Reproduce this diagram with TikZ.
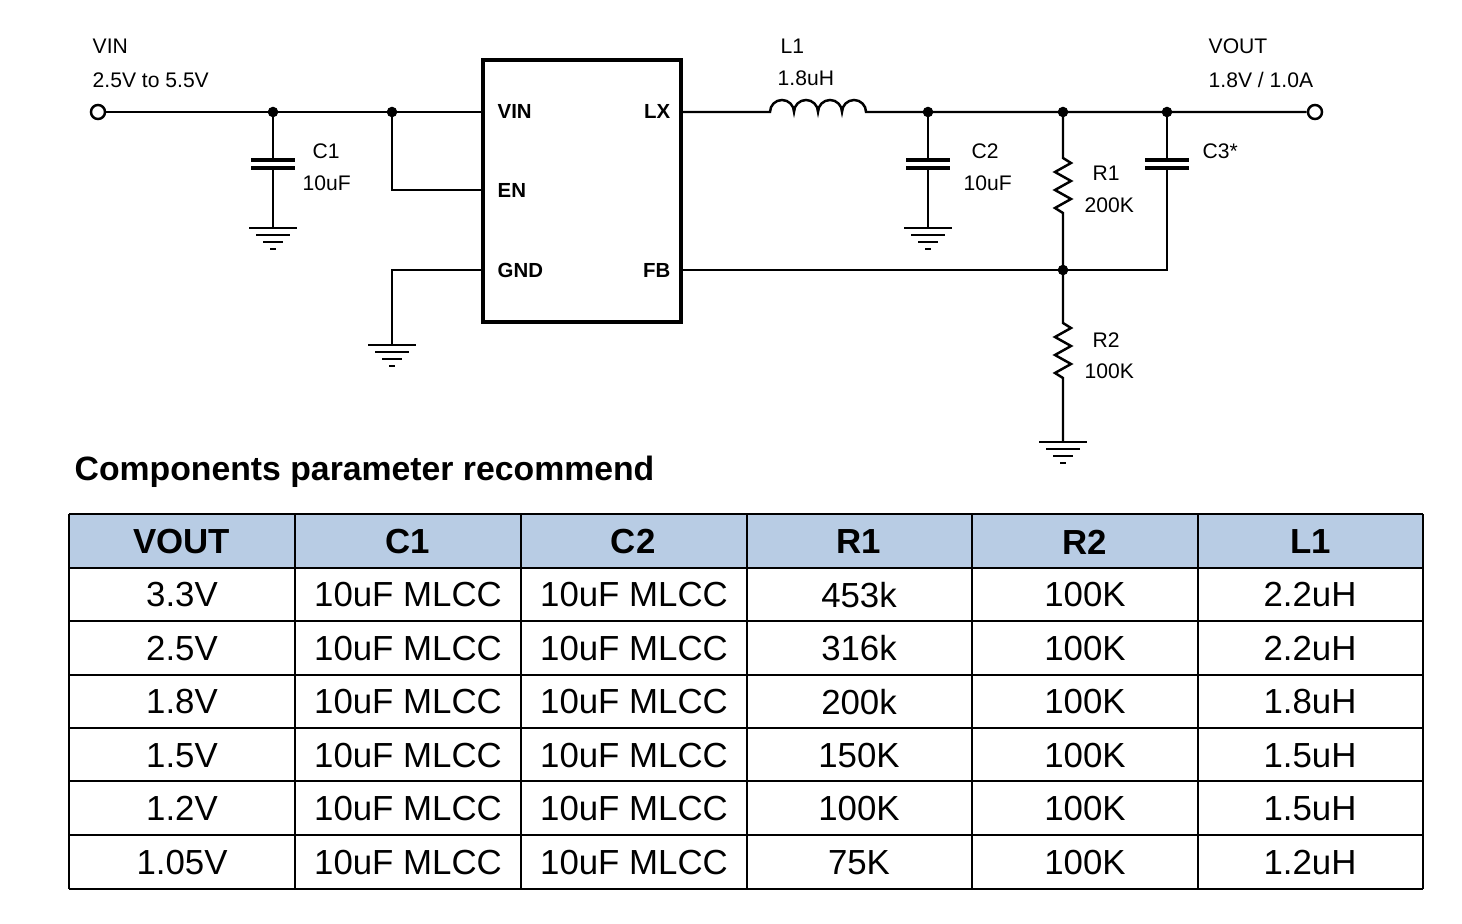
\documentclass[tikz,border=0pt]{standalone}
\usepackage{fontspec}
\setmainfont{Liberation Sans}
\definecolor{headblue}{HTML}{B8CCE4}
\begin{document}
\begin{tikzpicture}[x=0.01cm,y=-0.01cm,
    wire/.style={line width=0.7pt},
    lbl/.style={font=\fontsize{6}{7}\selectfont,inner sep=0pt},
    pin/.style={font=\fontsize{5.8}{6}\selectfont\bfseries,inner sep=0pt},
    dot/.style={circle,fill,inner sep=0pt,minimum size=3pt},
    term/.style={circle,draw,line width=0.7pt,fill=white,inner sep=0pt,minimum size=4pt},
    cell/.style={font=\fontsize{9.9}{11}\selectfont,inner sep=0pt},
    hcell/.style={font=\fontsize{9.9}{11}\selectfont\bfseries,inner sep=0pt},
    gnd/.pic={\draw[wire] (-24,0) -- (24,0) (-17,7) -- (17,7) (-10,14) -- (10,14) (-3,21) -- (3,21);},
    cap/.pic={\draw[line width=1.2pt] (-22,-4) -- (22,-4) (-22,4) -- (22,4);}]
\useasboundingbox (0,0) rectangle (1462,924);

% input side
\node[term] (vin) at (98,112) {};
\node[lbl,anchor=west] at (92,46) {VIN};
\node[lbl,anchor=west] at (92,80) {2.5V to 5.5V};
\coordinate (j1) at (273,112);
\coordinate (j2) at (392,112);
\node[dot] at (j1) {};
\node[dot] at (j2) {};

% IC
\draw[line width=1pt] (483,60) rectangle (681,322);
\node[pin,anchor=west] (pvin) at (497,111) {VIN};
\node[pin,anchor=east] (plx) at (671,111) {LX};
\node[pin,anchor=west] (pen) at (497,190) {EN};
\node[pin,anchor=west] (pgnd) at (497,270) {GND};
\node[pin,anchor=east] (pfb) at (671,270) {FB};
\draw[wire] (vin) -- (483,112);

% C1
\draw[wire] (j1) -- (273,160) (273,168) -- (273,228);
\pic at (273,164) {cap};
\pic at (273,228) {gnd};
\node[lbl,anchor=west] at (312,151) {C1};
\node[lbl,anchor=west] at (302,183) {10uF};

% EN and GND
\draw[wire] (j2) -- (392,190) -- (483,190);
\draw[wire] (483,270) -- (392,270) -- (392,345);
\pic at (392,345) {gnd};

% output side
\coordinate (j3) at (928,112);
\coordinate (j4) at (1063,112);
\coordinate (j5) at (1167,112);
\coordinate (j6) at (1063,270);
\node[term] (vout) at (1315,112) {};
\draw[wire] (681,112) -- (770,112) arc (180:0:0.12cm) arc (180:0:0.12cm) arc (180:0:0.12cm) arc (180:0:0.12cm) -- (vout);
\foreach \j in {j3,j4,j5,j6} \node[dot] at (\j) {};
\node[lbl,anchor=west] at (780,46) {L1};
\node[lbl,anchor=west] at (777,78) {1.8uH};
\node[lbl,anchor=west] at (1208,46) {VOUT};
\node[lbl,anchor=west] at (1208,80) {1.8V / 1.0A};

% C2
\draw[wire] (j3) -- (928,160) (928,168) -- (928,228);
\pic at (928,164) {cap};
\pic at (928,228) {gnd};
\node[lbl,anchor=west] at (971,151) {C2};
\node[lbl,anchor=west] at (963,183) {10uF};

% R1, R2
\draw[wire] (j4) -- (1063,158) -- (1071,163) -- (1055,172) -- (1071,181) -- (1055,190) -- (1071,199) -- (1055,208) -- (1063,213) -- (j6);
\node[lbl,anchor=west] at (1092,173) {R1};
\node[lbl,anchor=west] at (1084,205) {200K};
\draw[wire] (j6) -- (1063,323) -- (1071,328) -- (1055,337) -- (1071,346) -- (1055,355) -- (1071,364) -- (1055,373) -- (1063,378) -- (1063,442);
\pic at (1063,442) {gnd};
\node[lbl,anchor=west] at (1092,340) {R2};
\node[lbl,anchor=west] at (1084,371) {100K};

% C3 and FB
\draw[wire] (j5) -- (1167,160) (1167,168) -- (1167,270) -- (j6);
\pic at (1167,164) {cap};
\node[lbl,anchor=west] at (1202,151) {C3*};
\draw[wire] (681,270) -- (j6);

% table
\node[font=\fontsize{9.6}{11}\selectfont\bfseries,anchor=west,inner sep=0pt] at (74,472) {Components parameter recommend};
\fill[headblue] (69,514) rectangle (1423,568);
\foreach \y in {514,568,621,675,728,781,835,889} \draw[line width=0.8pt] (69,\y) -- (1423,\y);
\foreach \x in {69,295,521,747,972,1198,1423} \draw[line width=0.8pt] (\x,514) -- (\x,889);
\foreach \t [count=\i] in {VOUT,C1,C2,R1,R2,L1}
  \node[hcell] (h\i) at ({69+(\i-0.5)*225.7},542) {\t};
\foreach \a/\b/\c [count=\r] in {3.3V/453k/2.2uH,2.5V/316k/2.2uH,1.8V/200k/1.8uH,1.5V/150K/1.5uH,1.2V/100K/1.5uH,1.05V/75K/1.2uH}{
  \node[cell] (r\r a) at (182,{568+(\r-0.5)*53.5}) {\a};
  \node[cell] (r\r b) at (408,{568+(\r-0.5)*53.5}) {10uF MLCC};
  \node[cell] (r\r c) at (634,{568+(\r-0.5)*53.5}) {10uF MLCC};
  \node[cell] (r\r d) at (859,{568+(\r-0.5)*53.5}) {\b};
  \node[cell] (r\r e) at (1085,{568+(\r-0.5)*53.5}) {100K};
  \node[cell] (r\r f) at (1310,{568+(\r-0.5)*53.5}) {\c};
}
\end{tikzpicture}
\end{document}
